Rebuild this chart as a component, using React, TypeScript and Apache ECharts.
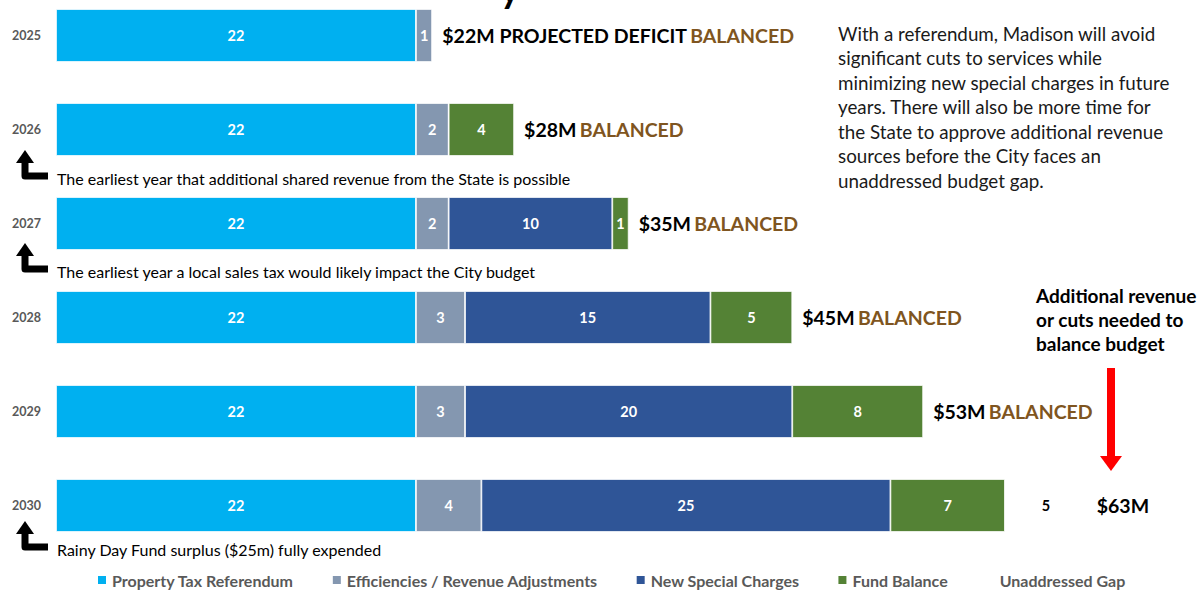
import React, { useEffect, useRef } from "react";
import * as echarts from "echarts";

const years = ["2025", "2026", "2027", "2028", "2029", "2030"];
const propertyTax = [22, 22, 22, 22, 22, 22];
const efficiencies = [1, 2, 2, 3, 3, 4];
const specialCharges = [0, 0, 10, 15, 20, 25];
const fundBalance = [0, 4, 1, 5, 8, 7];
const unaddressedGap = [0, 0, 0, 0, 0, 5];
const totalLabels = ["$22M PROJECTED DEFICIT", "$28M", "$35M", "$45M", "$53M", "$63M"];
const statusLabels = ["BALANCED", "BALANCED", "BALANCED", "BALANCED", "BALANCED", ""];
const seriesNames = [
  "Property Tax Referendum",
  "Efficiencies / Revenue Adjustments",
  "New Special Charges",
  "Fund Balance",
  "Unaddressed Gap",
];
const notes = [
  { text: "The earliest year that additional shared revenue from the State is possible", y: 178 },
  { text: "The earliest year a local sales tax would likely impact the City budget", y: 271 },
  { text: "Rainy Day Fund surplus ($25m) fully expended", y: 549 },
];
const paragraph = [
  "With a referendum, Madison will avoid",
  "significant cuts to services while",
  "minimizing new special charges in future",
  "years. There will also be more time for",
  "the State to approve additional revenue",
  "sources before the City faces an",
  "unaddressed budget gap.",
];
const sideNote = ["Additional revenue", "or cuts needed to", "balance budget"];

const FONT = "Lato, 'Noto Sans', sans-serif";

export default function App() {
  const ref = useRef<HTMLDivElement>(null);
  useEffect(() => {
    if (!ref.current) return;
    const chart = echarts.init(ref.current, null, { renderer: "svg" });
    const colors = ["#00b0f0", "#8497b0", "#2f5597", "#548235", "rgba(0,0,0,0)"];
    const datas = [propertyTax, efficiencies, specialCharges, fundBalance, unaddressedGap];
    const series: any[] = datas.map((d, i) => ({
      name: seriesNames[i],
      type: "bar",
      stack: "total",
      barWidth: 53,
      clip: false,
      data: d,
      itemStyle: {
        color: colors[i],
        borderColor: i === 4 ? "rgba(0,0,0,0)" : "#ffffff",
        borderWidth: i === 4 ? 0 : 0.8,
      },
      label: {
        show: true,
        position: "inside",
        color: i === 4 ? "#000000" : "#ffffff",
        fontWeight: "bold",
        fontSize: 14.5,
        fontFamily: FONT,
        formatter: (p: any) => (p.value ? String(p.value) : ""),
      },
    }));
    series.push({
      name: "Total",
      type: "bar",
      stack: "total",
      barWidth: 53,
      clip: false,
      data: years.map(() => 0),
      itemStyle: { color: "rgba(0,0,0,0)" },
      label: {
        show: true,
        position: "right",
        distance: 10,
        formatter: (p: any) =>
          `{a|${totalLabels[p.dataIndex]}}` +
          (statusLabels[p.dataIndex] ? ` {b|${statusLabels[p.dataIndex]}}` : ""),
        rich: {
          a: { color: "#000000", fontWeight: "bold", fontSize: 19.5, fontFamily: FONT },
          b: { color: "#7f5520", fontWeight: "bold", fontSize: 19.5, fontFamily: FONT },
        },
      },
    });

    const graphics: any[] = [];
    // Fragment of a cut-off title glyph
    graphics.push({
      type: "text",
      x: 500,
      y: -31,
      style: { text: "y", fill: "#000", font: `bold 38px ${FONT}` },
    });
    notes.forEach((n) => {
      const y = n.y;
      graphics.push({
        type: "polyline",
        shape: { points: [[48, y - 2], [25, y - 2], [25, y - 16]] },
        style: { stroke: "#000", lineWidth: 7, fill: null, lineJoin: "round" },
      });
      graphics.push({
        type: "polygon",
        shape: { points: [[16, y - 15], [34, y - 15], [25, y - 28]] },
        style: { fill: "#000" },
      });
      graphics.push({
        type: "text",
        x: 57,
        y: y,
        style: {
          text: n.text,
          fill: "#000",
          font: `16px ${FONT}`,
          verticalAlign: "middle",
        },
      });
    });
    paragraph.forEach((line, i) => {
      graphics.push({
        type: "text",
        x: 838,
        y: 33 + i * 24.5,
        style: { text: line, fill: "#1a1a1a", font: `18.8px ${FONT}`, verticalAlign: "middle" },
      });
    });
    sideNote.forEach((line, i) => {
      graphics.push({
        type: "text",
        x: 1036,
        y: 295 + i * 24,
        style: { text: line, fill: "#000", font: `bold 19px ${FONT}`, verticalAlign: "middle" },
      });
    });
    // red arrow
    graphics.push({
      type: "rect",
      shape: { x: 1107, y: 368, width: 8, height: 89 },
      style: { fill: "#ff0000" },
    });
    graphics.push({
      type: "polygon",
      shape: { points: [[1100, 456], [1122, 456], [1111, 471]] },
      style: { fill: "#ff0000" },
    });

    chart.setOption({
      animation: false,
      grid: { left: 56, top: 35.5, width: 1142, height: 470, containLabel: false },
      xAxis: {
        type: "value",
        min: 0,
        max: 69.8,
        show: false,
      },
      yAxis: {
        type: "category",
        data: years,
        inverse: true,
        boundaryGap: false,
        axisLine: { show: false },
        axisTick: { show: false },
        axisLabel: {
          color: "#595959",
          fontWeight: "bold",
          fontSize: 12.5,
          fontFamily: FONT,
          margin: 15,
        },
      },
      legend: {
        data: seriesNames,
        left: 91,
        top: 567,
        itemWidth: 10,
        itemHeight: 10,
        itemGap: 37,
        icon: "rect",
        textStyle: { color: "#595959", fontWeight: "bold", fontSize: 16, fontFamily: FONT },
      },
      graphic: graphics,
      series,
    });
    return () => chart.dispose();
  }, []);
  return (
    <div
      ref={ref}
      style={{ position: "absolute", left: 0, top: 0, width: 1202, height: 590, background: "#fff" }}
    />
  );
}
